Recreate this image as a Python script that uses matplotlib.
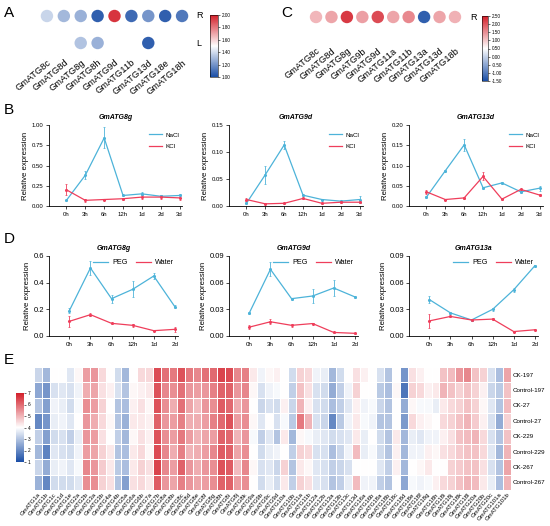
import matplotlib
matplotlib.use('Agg')
import matplotlib.pyplot as plt
import numpy as np
from matplotlib.colors import LinearSegmentedColormap, Normalize
from matplotlib.cm import ScalarMappable
from matplotlib.lines import Line2D

plt.rcParams['font.family'] = ['Liberation Sans', 'DejaVu Sans']
plt.rcParams['axes.linewidth'] = 0.6

nan = np.nan

# ---- panel A: salt tissue dots ----
a_genes = ['GmATG8c', 'GmATG8d', 'GmATG8g', 'GmATG8h', 'GmATG9d',
           'GmATG11b', 'GmATG13d', 'GmATG18e', 'GmATG18h']
a_root = [1.38, 1.30, 1.28, 1.05, 1.95, 1.08, 1.20, 1.05, 1.12]
a_leaf = [nan, nan, 1.33, 1.28, nan, nan, 1.05, nan, nan]

# ---- panel C ----
c_genes = ['GmATG8c', 'GmATG8d', 'GmATG8g', 'GmATG9b', 'GmATG9d',
           'GmATG11a', 'GmATG11b', 'GmATG13a', 'GmATG13d', 'GmATG18b']
c_root = [1.15, 1.30, 2.25, 1.35, 2.10, 1.30, 1.55, -1.30, 1.30, 1.20]

# ---- panel B: salt time course ----
times_b = ['0h', '3h', '6h', '12h', '1d', '2d', '3d']
b8g_nacl = [0.07, 0.38, 0.84, 0.13, 0.15, 0.12, 0.13]
b8g_nacl_err = [0.01, 0.05, 0.13, 0.01, 0.02, 0.01, 0.02]
b8g_kcl = [0.20, 0.07, 0.08, 0.09, 0.11, 0.11, 0.10]
b8g_kcl_err = [0.07, 0.02, 0.01, 0.01, 0.02, 0.02, 0.02]
b9d_nacl = [0.005, 0.058, 0.113, 0.020, 0.012, 0.009, 0.012]
b9d_nacl_err = [0.002, 0.017, 0.008, 0.001, 0.001, 0.001, 0.006]
b9d_kcl = [0.012, 0.004, 0.005, 0.014, 0.005, 0.007, 0.007]
b9d_kcl_err = [0.002, 0.001, 0.001, 0.001, 0.001, 0.001, 0.001]
b13d_nacl = [0.022, 0.087, 0.151, 0.045, 0.057, 0.035, 0.044]
b13d_nacl_err = [0.002, 0.003, 0.015, 0.002, 0.002, 0.002, 0.006]
b13d_kcl = [0.035, 0.016, 0.020, 0.073, 0.017, 0.041, 0.027]
b13d_kcl_err = [0.005, 0.002, 0.003, 0.010, 0.002, 0.002, 0.003]

# ---- panel D: drought time course ----
times_d = ['0h', '3h', '6h', '12h', '1d', '2d']
d8g_peg = [0.19, 0.51, 0.28, 0.35, 0.45, 0.22]
d8g_peg_err = [0.02, 0.05, 0.03, 0.06, 0.02, 0.01]
d8g_water = [0.11, 0.16, 0.095, 0.08, 0.04, 0.05]
d8g_water_err = [0.04, 0.01, 0.005, 0.01, 0.005, 0.02]
d9d_peg = [0.026, 0.075, 0.042, 0.045, 0.054, 0.044]
d9d_peg_err = [0.001, 0.008, 0.001, 0.008, 0.009, 0.001]
d9d_water = [0.010, 0.016, 0.012, 0.014, 0.004, 0.003]
d9d_water_err = [0.002, 0.003, 0.002, 0.001, 0.0005, 0.0005]
d13a_peg = [0.041, 0.026, 0.018, 0.030, 0.052, 0.079]
d13a_peg_err = [0.004, 0.001, 0.001, 0.002, 0.002, 0.001]
d13a_water = [0.017, 0.022, 0.018, 0.019, 0.005, 0.007]
d13a_water_err = [0.008, 0.001, 0.001, 0.001, 0.0005, 0.0005]

# ---- panel E: heatmap ----
e_samples = ['CK-197', 'Control-197', 'CK-27', 'Control-27',
             'CK-229', 'Control-229', 'CK-267', 'Control-267']
e_genes = ['GmATG1a', 'GmATG1b', 'GmATG1c', 'GmATG1d', 'GmATG1e', 'GmATG2a',
           'GmATG2b', 'GmATG3a', 'GmATG3b', 'GmATG4a', 'GmATG4b', 'GmATG5a',
           'GmATG6a', 'GmATG6b', 'GmATG7a', 'GmATG7b', 'GmATG8a', 'GmATG8b',
           'GmATG8c', 'GmATG8d', 'GmATG8e', 'GmATG8f', 'GmATG8g', 'GmATG8h',
           'GmATG8i', 'GmATG8j', 'GmATG8k', 'GmATG9a', 'GmATG9b', 'GmATG9c',
           'GmATG9d', 'GmATG10a', 'GmATG10b', 'GmATG11a', 'GmATG11b',
           'GmATG12a', 'GmATG12b', 'GmATG13a', 'GmATG13b', 'GmATG13c',
           'GmATG13d', 'GmATG16a', 'GmATG16b', 'GmATG18a', 'GmATG18b',
           'GmATG18c', 'GmATG18d', 'GmATG18e', 'GmATG18f', 'GmATG18g',
           'GmATG18h', 'GmATG18i', 'GmATG18j', 'GmATG18k', 'GmATG18l',
           'GmATG20a', 'GmATG20b', 'GmATG20c', 'GmATG101a', 'GmATG101b']
# one list per gene, values for the 8 samples (top to bottom)
e_values = [
    [3.3, 2.5, 3.0, 2.0, 3.2, 2.8, 3.3, 2.7],
    [2.8, 2.2, 2.4, 2.2, 2.4, 1.9, 2.6, 2.0],
    [4.0, 3.5, 3.8, 3.7, 3.4, 3.6, 3.7, 3.4],
    [4.0, 3.6, 3.7, 3.8, 3.5, 3.5, 3.8, 3.4],
    [3.6, 3.5, 3.4, 3.6, 3.2, 3.4, 3.6, 3.4],
    [4.1, 3.8, 3.9, 4.0, 3.7, 3.8, 3.9, 3.6],
    [5.3, 5.1, 5.5, 5.4, 5.4, 5.3, 5.6, 5.5],
    [5.4, 5.2, 5.3, 5.1, 5.3, 5.2, 5.4, 5.5],
    [4.5, 4.4, 4.6, 4.5, 4.4, 4.6, 4.7, 4.6],
    [4.0, 4.2, 4.0, 4.1, 4.0, 4.3, 4.3, 4.4],
    [3.4, 3.5, 3.0, 3.0, 3.2, 3.0, 3.1, 3.0],
    [2.8, 3.0, 2.9, 2.7, 2.8, 2.9, 2.9, 2.4],
    [4.0, 4.1, 4.2, 4.3, 4.1, 4.3, 4.3, 4.4],
    [4.5, 4.2, 4.4, 4.3, 4.4, 4.5, 4.6, 4.5],
    [4.5, 4.3, 4.1, 4.2, 4.2, 4.1, 4.4, 4.3],
    [6.4, 6.3, 6.3, 6.1, 6.3, 6.4, 6.5, 6.2],
    [5.9, 5.6, 5.5, 5.4, 5.5, 5.6, 5.6, 5.4],
    [5.8, 5.5, 5.1, 5.3, 5.3, 5.1, 5.3, 5.2],
    [6.3, 5.9, 5.9, 5.7, 5.8, 5.7, 6.1, 5.7],
    [5.8, 5.4, 5.2, 5.1, 5.3, 5.0, 5.4, 5.4],
    [5.6, 5.3, 4.9, 5.1, 5.0, 5.1, 5.1, 5.2],
    [5.9, 5.4, 5.4, 5.3, 5.2, 5.3, 5.4, 5.3],
    [6.0, 5.7, 5.5, 5.7, 5.3, 5.6, 5.5, 5.5],
    [6.5, 6.1, 6.2, 6.0, 6.1, 6.2, 6.3, 6.1],
    [6.4, 6.1, 6.0, 6.3, 6.0, 6.1, 6.2, 6.1],
    [5.6, 5.4, 5.1, 5.3, 5.0, 5.2, 4.9, 5.3],
    [5.7, 5.6, 5.4, 5.5, 5.4, 5.5, 5.6, 5.5],
    [4.3, 4.1, 4.0, 4.1, 3.9, 4.0, 4.1, 4.0],
    [3.8, 3.5, 3.3, 3.6, 3.2, 3.4, 3.5, 3.4],
    [4.1, 3.8, 3.5, 4.0, 3.6, 3.7, 3.6, 3.7],
    [4.2, 3.9, 3.4, 3.5, 3.0, 3.8, 3.3, 3.4],
    [4.0, 4.0, 4.2, 3.9, 4.3, 4.0, 4.6, 4.3],
    [3.4, 3.2, 3.3, 3.1, 2.8, 3.2, 3.0, 3.2],
    [4.6, 4.8, 5.0, 5.8, 4.1, 4.6, 4.3, 4.6],
    [4.5, 4.4, 4.2, 5.0, 3.9, 4.5, 4.1, 4.4],
    [3.8, 3.5, 3.5, 3.5, 3.7, 3.5, 3.6, 3.6],
    [3.7, 3.4, 3.4, 3.3, 3.6, 3.5, 3.5, 3.5],
    [2.8, 2.6, 2.9, 2.0, 3.4, 2.9, 3.2, 3.0],
    [3.4, 3.2, 3.2, 3.1, 3.5, 3.3, 3.3, 3.2],
    [4.0, 3.8, 3.6, 3.8, 3.6, 3.8, 3.5, 3.7],
    [4.4, 4.6, 4.2, 4.3, 4.3, 4.9, 4.0, 4.9],
    [4.2, 4.0, 3.8, 3.9, 3.7, 3.7, 4.0, 3.8],
    [4.0, 4.0, 3.9, 3.8, 4.0, 3.9, 4.0, 3.8],
    [3.5, 3.1, 3.3, 3.0, 3.4, 3.4, 3.6, 3.2],
    [3.0, 2.9, 3.0, 3.0, 3.0, 3.0, 3.2, 3.0],
    [4.0, 4.1, 4.0, 4.0, 4.3, 4.2, 4.2, 4.0],
    [2.2, 1.7, 2.6, 2.3, 2.8, 2.8, 2.8, 2.5],
    [4.4, 4.6, 4.1, 4.5, 3.7, 3.8, 4.0, 3.9],
    [4.2, 4.5, 3.9, 4.2, 3.6, 3.8, 4.1, 3.8],
    [4.0, 4.2, 3.9, 4.1, 3.8, 4.2, 4.3, 3.9],
    [4.0, 4.3, 3.7, 4.0, 3.8, 4.1, 4.0, 4.2],
    [4.8, 5.0, 4.3, 4.5, 4.2, 4.4, 4.0, 4.5],
    [4.9, 4.8, 4.5, 4.6, 4.4, 4.5, 4.6, 4.6],
    [5.4, 4.6, 4.6, 4.8, 4.8, 4.7, 4.7, 4.8],
    [5.6, 4.8, 4.8, 5.0, 4.9, 4.8, 4.8, 5.0],
    [4.8, 4.6, 4.6, 4.7, 5.0, 4.8, 4.8, 4.9],
    [4.6, 4.2, 4.1, 4.2, 4.5, 4.5, 4.4, 4.3],
    [3.5, 3.3, 3.6, 3.5, 3.5, 3.6, 3.5, 3.7],
    [2.9, 3.1, 3.0, 2.6, 3.0, 2.8, 3.0, 2.9],
    [5.2, 4.8, 4.9, 4.6, 4.8, 5.0, 5.2, 5.0],
]

W, H = 550, 526
fig = plt.figure(figsize=(5.5, 5.26), dpi=100)

BLUE = '#4db3d9'
RED = '#ef3e5b'
cmap = LinearSegmentedColormap.from_list('bwr2', ['#1a4ea6', '#ffffff', '#d31f2a'])


def px_axes(x0, y0, x1, y1):
    # pixel box measured from the top-left corner
    return fig.add_axes([x0 / W, 1 - y1 / H, (x1 - x0) / W, (y1 - y0) / H])


def letter(x, y, s):
    fig.text(x / W, 1 - y / H, s, fontsize=11, va='center', ha='left')


def small_cbar(box, vmin, vmax, ticks):
    cax = px_axes(*box)
    cb = fig.colorbar(ScalarMappable(Normalize(vmin, vmax), cmap), cax=cax)
    cb.set_ticks(ticks)
    cb.ax.set_yticklabels(['%.2f' % t for t in ticks])
    cb.ax.tick_params(labelsize=3.3, length=1.5, width=0.4, pad=1)
    cb.outline.set_linewidth(0.4)
    return cb


# ---------- A ----------
axA = px_axes(38.5, 2.5, 190.5, 56.5)
xa = np.arange(len(a_genes))
axA.scatter(xa, np.zeros(len(xa)), c=a_root, cmap=cmap, vmin=1.0, vmax=2.0, s=80, linewidths=0)
axA.scatter(xa, np.ones(len(xa)), c=a_leaf, cmap=cmap, vmin=1.0, vmax=2.0, s=80, linewidths=0)
axA.set_xlim(-0.5, len(a_genes) - 0.5)
axA.set_ylim(1.5, -0.5)
axA.set_xticks(xa)
axA.set_xticklabels(a_genes, rotation=40, ha='right', rotation_mode='anchor', fontsize=6.7)
axA.set_yticks([])
axA.tick_params(axis='x', length=0, pad=1)
for sp in axA.spines.values():
    sp.set_visible(False)
axA.text(8.85, 0, 'R', fontsize=6.5, va='center')
axA.text(8.85, 1, 'L', fontsize=6.5, va='center')
small_cbar((210, 15, 218, 77), 1.0, 2.0, [1.0, 1.2, 1.4, 1.6, 1.8, 2.0])
letter(4, 13, 'A')

# ---------- C ----------
axC = px_axes(308.3, 3, 462.7, 45)
xc = np.arange(len(c_genes))
axC.scatter(xc, np.zeros(len(xc)), c=c_root, cmap=cmap, vmin=-1.5, vmax=2.5, s=80, linewidths=0)
axC.set_xlim(-0.5, len(c_genes) - 0.5)
axC.set_ylim(1.0, -0.5)
axC.set_xticks(xc)
axC.set_xticklabels(c_genes, rotation=40, ha='right', rotation_mode='anchor', fontsize=6.7)
axC.set_yticks([])
axC.tick_params(axis='x', length=0, pad=1)
for sp in axC.spines.values():
    sp.set_visible(False)
axC.text(10.0, 0, 'R', fontsize=6.5, va='center')
small_cbar((482, 16, 488, 81), -1.5, 2.5, [-1.5, -1.0, -0.5, 0.0, 0.5, 1.0, 1.5, 2.0, 2.5])
letter(281, 13, 'C')


# ---------- line panels ----------
def line_panel(ax, times, s1, e1, s2, e2, names, ylim, yticks, fmt, title,
               xfs, yfs, horizontal):
    x = np.arange(len(times))
    for s, e, col in [(s1, e1, BLUE), (s2, e2, RED)]:
        ax.errorbar(x, s, yerr=e, color=col, lw=0.9, elinewidth=0.6,
                    capsize=1.0, capthick=0.5, marker='o', ms=1.2)
    handles = [Line2D([], [], color=BLUE, lw=0.9), Line2D([], [], color=RED, lw=0.9)]
    ax.set_xlim(-0.95, len(times) - 0.85)
    ax.set_ylim(*ylim)
    ax.set_yticks(yticks)
    ax.set_yticklabels([fmt % t for t in yticks])
    ax.set_xticks(x)
    ax.set_xticklabels(times)
    ax.spines['top'].set_visible(False)
    ax.spines['right'].set_visible(False)
    ax.tick_params(axis='x', labelsize=xfs, length=2, width=0.5, pad=2)
    ax.tick_params(axis='y', labelsize=yfs, length=2, width=0.5, pad=1.5)
    ax.set_ylabel('Relative expression', fontsize=5.6, labelpad=2)
    ax.set_title(title, fontsize=5, fontweight='bold', style='italic', pad=4)
    if horizontal:
        ax.legend(handles, names, loc='upper right', bbox_to_anchor=(1.02, 1.04), ncol=2,
                  frameon=False, fontsize=5.2, handlelength=2.0, columnspacing=1.2,
                  handletextpad=0.6)
    else:
        ax.legend(handles, names, loc='upper right', bbox_to_anchor=(1.02, 0.98),
                  frameon=False, fontsize=4.5, handlelength=2.0, labelspacing=1.0,
                  handletextpad=0.6)


b_sets = [
    (b8g_nacl, b8g_nacl_err, b8g_kcl, b8g_kcl_err, (0, 1.0), [0, 0.25, 0.5, 0.75, 1.0], 'GmATG8g'),
    (b9d_nacl, b9d_nacl_err, b9d_kcl, b9d_kcl_err, (0, 0.15), [0, 0.05, 0.10, 0.15], 'GmATG9d'),
    (b13d_nacl, b13d_nacl_err, b13d_kcl, b13d_kcl_err, (0, 0.20), [0, 0.05, 0.10, 0.15, 0.20], 'GmATG13d'),
]
for i, (s1, e1, s2, e2, yl, yt, tt) in enumerate(b_sets):
    left = 48.5 + 180 * i
    ax = px_axes(left, 125, left + 134, 206)
    line_panel(ax, times_b, s1, e1, s2, e2, ['NaCl', 'KCl'], yl, yt, '%.2f', tt, 4.3, 4.3, False)
letter(4, 110, 'B')

d_sets = [
    (d8g_peg, d8g_peg_err, d8g_water, d8g_water_err, (0, 0.6), [0, 0.2, 0.4, 0.6], '%.1f', 'GmATG8g'),
    (d9d_peg, d9d_peg_err, d9d_water, d9d_water_err, (0, 0.09), [0, 0.03, 0.06, 0.09], '%.2f', 'GmATG9d'),
    (d13a_peg, d13a_peg_err, d13a_water, d13a_water_err, (0, 0.09), [0, 0.03, 0.06, 0.09], '%.2f', 'GmATG13a'),
]
for i, (s1, e1, s2, e2, yl, yt, fm, tt) in enumerate(d_sets):
    left = 49.3 + 180 * i
    ax = px_axes(left, 256, left + 128.7, 336)
    line_panel(ax, times_d, s1, e1, s2, e2, ['PEG', 'Water'], yl, yt, fm, tt, 4.5, 5.5, True)
letter(4, 239, 'D')

# ---------- E ----------
axE = px_axes(34, 367, 511, 490)
vals = np.array(e_values).T
axE.pcolormesh(vals, cmap=cmap, vmin=1, vmax=7, edgecolors='white', linewidth=0.5)
axE.set_xlim(0, len(e_genes))
axE.set_ylim(len(e_samples), 0)
axE.set_xticks(np.arange(len(e_genes)) + 0.5)
axE.set_xticklabels(e_genes, rotation=50, ha='right', rotation_mode='anchor', fontsize=4.3)
axE.set_yticks(np.arange(len(e_samples)) + 0.5)
axE.set_yticklabels(e_samples, fontsize=4.5)
axE.yaxis.tick_right()
axE.tick_params(length=0, pad=1.5)
for sp in axE.spines.values():
    sp.set_visible(False)
caxE = px_axes(16, 393, 24, 462)
cbE = fig.colorbar(ScalarMappable(Normalize(1, 7), cmap), cax=caxE)
cbE.set_ticks([1, 2, 3, 4, 5, 6, 7])
cbE.ax.tick_params(labelsize=3.5, length=1.5, width=0.4, pad=1)
cbE.outline.set_visible(False)
letter(4, 360, 'E')

fig.savefig('out.png', dpi=100)
